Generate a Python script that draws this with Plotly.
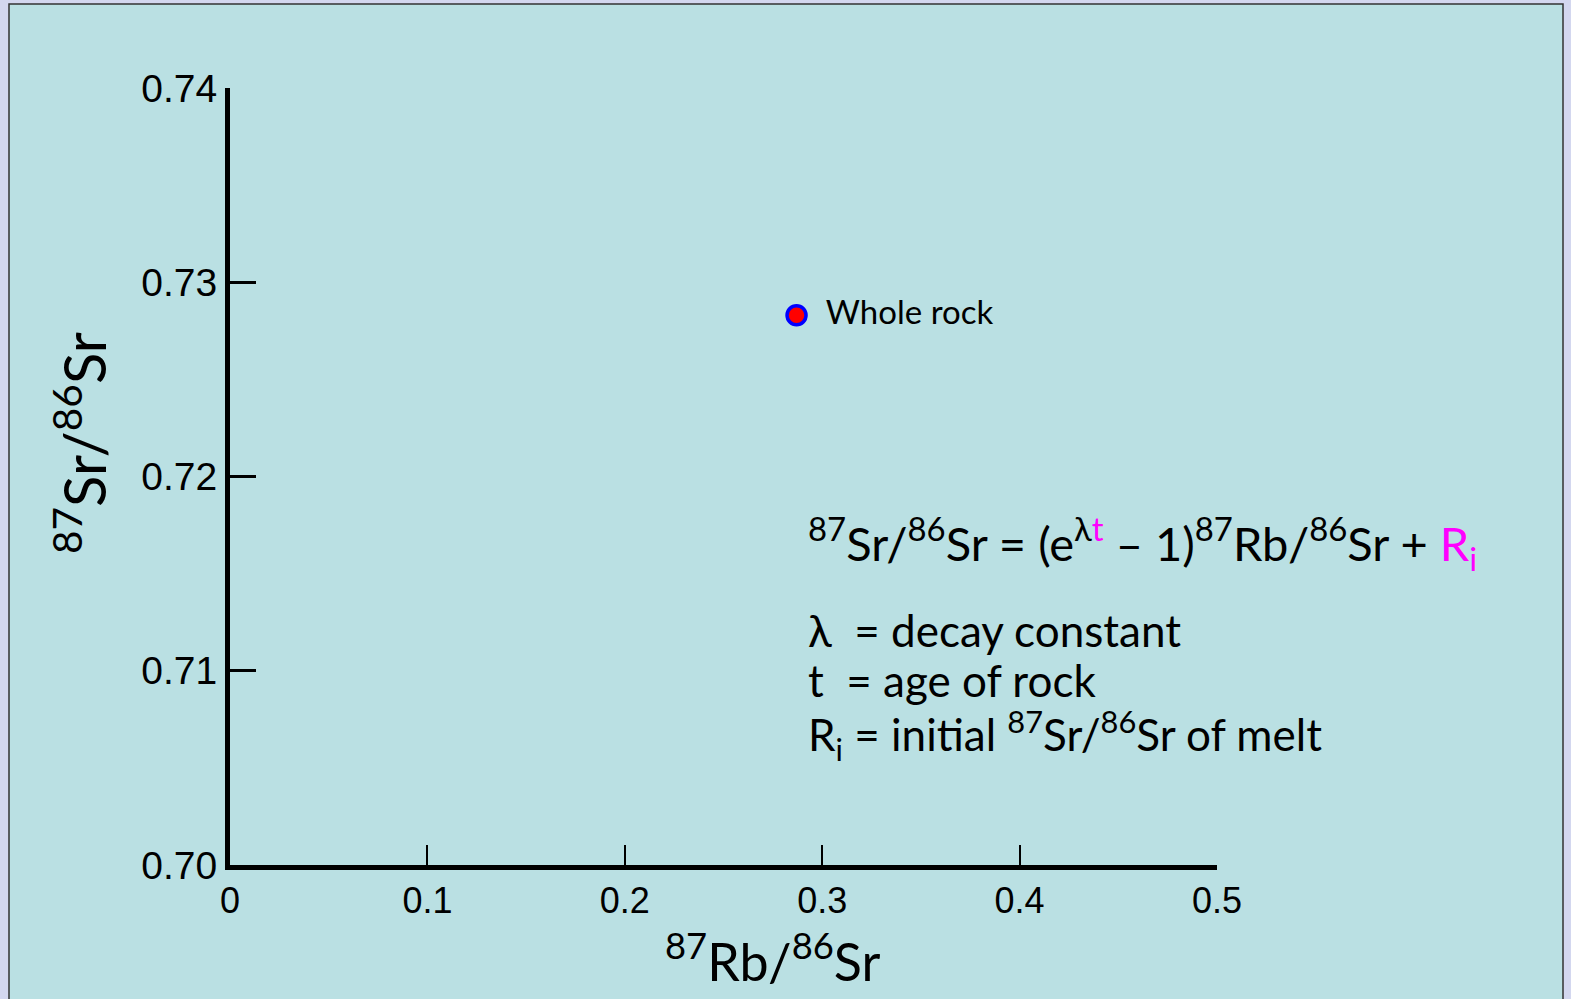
import plotly.graph_objects as go

# ---- data ----
rb_sr = [0.287]          # 87Rb/86Sr of the whole-rock sample
sr_sr = [0.7283]         # 87Sr/86Sr of the whole-rock sample
point_labels = ["Whole rock"]

x_tickvals = [0, 0.1, 0.2, 0.3, 0.4, 0.5]
x_ticktext = ["0", "0.1", "0.2", "0.3", "0.4", "0.5"]
y_tickvals = [0.70, 0.71, 0.72, 0.73, 0.74]
y_ticktext = ["0.70", "0.71", "0.72", "0.73", "0.74"]

W, H = 1571, 999
L, R, T, B = 230, 1217, 88, 865   # plot area in pixels


def px(p):
    return (p - L) / (R - L)


def py(p):
    return (B - p) / (B - T)


COMIC = "Comic Sans MS, Lato, sans-serif"
ARIAL = "Liberation Sans, Arial, sans-serif"
MAG = "#ff00ff"

fig = go.Figure()
fig.add_trace(go.Scatter(
    x=rb_sr, y=sr_sr, mode="markers+text",
    text=["  " + s for s in point_labels], textposition="middle right",
    textfont=dict(family=COMIC, size=33, color="black"),
    marker=dict(size=19, color="red", line=dict(color="blue", width=3.5)),
    cliponaxis=False, showlegend=False, hoverinfo="x+y",
))

fig.update_layout(
    width=W, height=H, autosize=False,
    margin=dict(l=L, r=W - R, t=T, b=H - B, pad=0),
    paper_bgcolor="#d3d7ef",
    plot_bgcolor="rgba(0,0,0,0)",
    showlegend=False,
    xaxis=dict(
        range=[0, 0.5], tickvals=x_tickvals, ticktext=x_ticktext,
        showgrid=False, zeroline=False, showline=True, linewidth=5, linecolor="black",
        ticks="inside", ticklen=20, tickwidth=1.5, tickcolor="black",
        tickfont=dict(family=ARIAL, size=36, color="black"),
        fixedrange=True,
    ),
    yaxis=dict(
        range=[0.70, 0.74], tickvals=y_tickvals, ticktext=y_ticktext,
        showgrid=False, zeroline=False, showline=True, linewidth=5, linecolor="black",
        ticks="inside", ticklen=26, tickwidth=3, tickcolor="black",
        tickfont=dict(family=ARIAL, size=39, color="black"),
        fixedrange=True,
    ),
    shapes=[dict(
        type="rect", xref="paper", yref="paper", layer="below",
        x0=px(9), x1=px(1563), y0=py(1010), y1=py(4),
        fillcolor="#bae0e3", line=dict(color="#333333", width=1.5),
    )],
)

annotations = [
    # axis titles
    dict(x=px(80), y=py(443), text="<sup>87</sup>Sr/<sup>86</sup>Sr", textangle=-90,
         font=dict(family=COMIC, size=58, color="black")),
    dict(x=px(772), y=py(957), text="<sup>87</sup>Rb/<sup>86</sup>Sr",
         font=dict(family=COMIC, size=52, color="black")),
    # equation block
    dict(x=px(806), y=py(543), xanchor="left",
         text=("<sup>87</sup>Sr/<sup>86</sup>Sr = (e<sup>λ<span style='color:%s'>t</span></sup> – 1)"
               "<sup>87</sup>Rb/<sup>86</sup>Sr + <span style='color:%s'>R<sub>i</sub></span>") % (MAG, MAG),
         font=dict(family=COMIC, size=47, color="black")),
    dict(x=px(806), y=py(630), xanchor="left", text="λ  = decay constant",
         font=dict(family=COMIC, size=44, color="black")),
    dict(x=px(806), y=py(680), xanchor="left", text="t  = age of rock",
         font=dict(family=COMIC, size=44, color="black")),
    dict(x=px(806), y=py(735), xanchor="left",
         text="R<sub>i</sub> = initial <sup>87</sup>Sr/<sup>86</sup>Sr of melt",
         font=dict(family=COMIC, size=44, color="black")),
]
for a in annotations:
    a.update(xref="paper", yref="paper", showarrow=False, yanchor="middle")
    a.setdefault("xanchor", "center")
fig.update_layout(annotations=annotations)

fig.write_html("out.html")
